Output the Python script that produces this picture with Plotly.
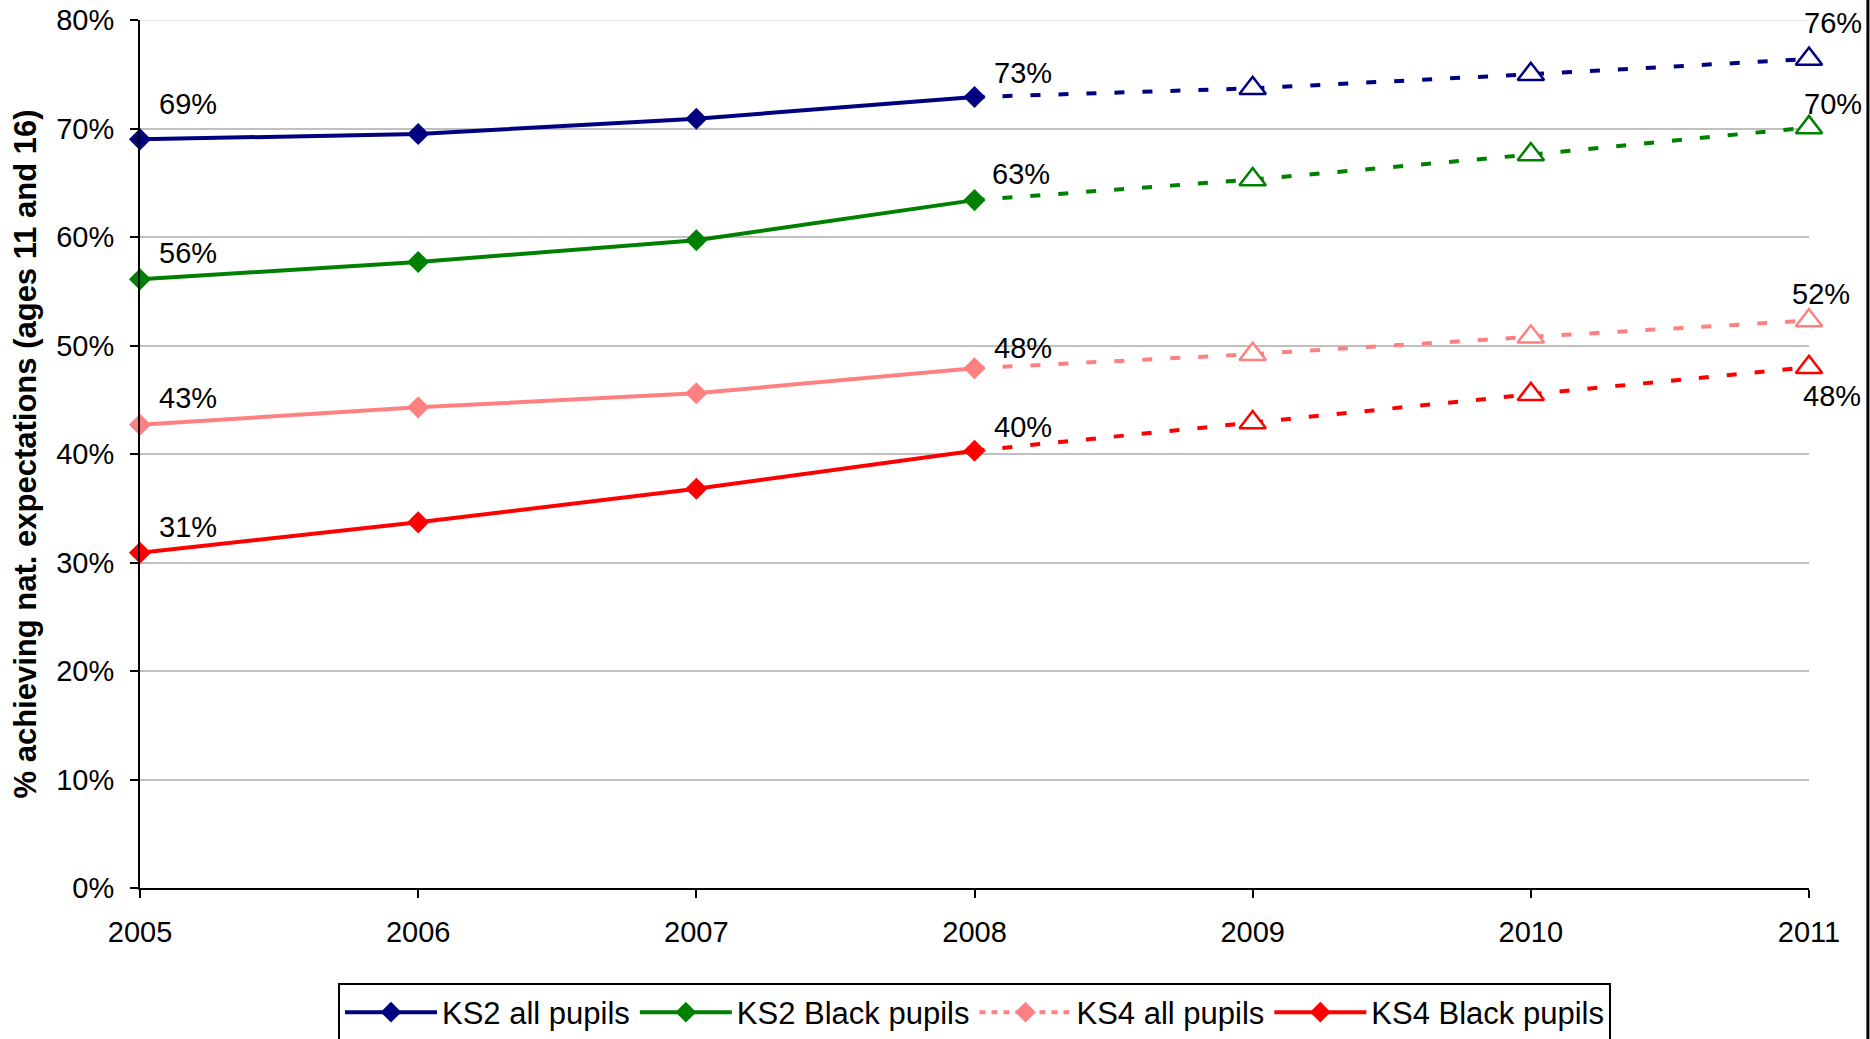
import plotly.graph_objects as go

# Attainment data: actual results 2005-2008, projections 2008-2011
years_actual = [2005, 2006, 2007, 2008]
years_proj = [2008, 2009, 2010, 2011]

ks2_all_actual = [69.0, 69.5, 70.9, 72.9]
ks2_all_proj = [72.9, 73.7, 75.0, 76.4]

ks2_black_actual = [56.1, 57.7, 59.7, 63.4]
ks2_black_proj = [63.4, 65.3, 67.6, 70.1]

ks4_all_actual = [42.7, 44.3, 45.6, 47.9]
ks4_all_proj = [47.9, 49.2, 50.8, 52.3]

ks4_black_actual = [30.9, 33.7, 36.8, 40.3]
ks4_black_proj = [40.3, 42.9, 45.5, 48.0]

series_names = ["KS2 all pupils", "KS2 Black pupils", "KS4 all pupils", "KS4 Black pupils"]
series_colors = ["#000080", "#008000", "#FF8080", "#FF0000"]

y_ticks = [0, 10, 20, 30, 40, 50, 60, 70, 80]
y_tick_labels = ["0%", "10%", "20%", "30%", "40%", "50%", "60%", "70%", "80%"]
x_ticks = [2005, 2006, 2007, 2008, 2009, 2010, 2011]

FONT = "Liberation Sans, Arial, sans-serif"
DOT = "10px,18px"

actuals = [ks2_all_actual, ks2_black_actual, ks4_all_actual, ks4_black_actual]
projs = [ks2_all_proj, ks2_black_proj, ks4_all_proj, ks4_black_proj]

fig = go.Figure()

for i, (name, color, act, prj) in enumerate(zip(series_names, series_colors, actuals, projs)):
    # projection (dotted line)
    fig.add_trace(go.Scatter(
        x=years_proj, y=prj, mode="lines",
        line=dict(color=color, width=4, dash=DOT),
        showlegend=False, hoverinfo="skip", cliponaxis=False,
    ))
    # open triangles at projected years
    fig.add_trace(go.Scatter(
        x=years_proj[1:], y=prj[1:], mode="markers",
        marker=dict(symbol="triangle-up", size=23, color="#FFFFFF",
                    line=dict(color=color, width=2.5)),
        showlegend=False, cliponaxis=False,
    ))
    # actual results (solid with diamonds)
    fig.add_trace(go.Scatter(
        x=years_actual, y=act, mode="lines+markers", name=name,
        line=dict(color=color, width=4),
        marker=dict(symbol="diamond", size=17, color=color),
        showlegend=(name != "KS4 all pupils"), legendrank=i + 1,
        cliponaxis=False,
    ))

# legend key for KS4 all pupils drawn with a dotted line
fig.add_trace(go.Scatter(
    x=[None], y=[None], mode="lines+markers", name="KS4 all pupils",
    line=dict(color=series_colors[2], width=4, dash="6px,6px"),
    marker=dict(symbol="diamond", size=17, color=series_colors[2]),
    legendrank=3,
))

# value labels: (series values, index, x position, xshift, yshift)
label_specs = [
    (ks2_all_actual, 0, 2005, 48, 35), (ks2_black_actual, 0, 2005, 48, 26),
    (ks4_all_actual, 0, 2005, 48, 27), (ks4_black_actual, 0, 2005, 48, 26),
    (ks2_all_actual, 3, 2008, 48, 24), (ks2_black_actual, 3, 2008, 46, 26),
    (ks4_all_actual, 3, 2008, 48, 20), (ks4_black_actual, 3, 2008, 48, 24),
    (ks2_all_proj, 3, 2011, 24, 36), (ks2_black_proj, 3, 2011, 24, 23),
    (ks4_all_proj, 3, 2011, 12, 27), (ks4_black_proj, 3, 2011, 23, -29),
]
annotations = []
for vals, idx, xv, dx, dy in label_specs:
    annotations.append(dict(
        x=xv, y=vals[idx], xref="x", yref="y", text=f"{round(vals[idx])}%",
        showarrow=False, xshift=dx, yshift=dy,
        font=dict(family=FONT, size=29, color="#000000"),
    ))

annotations.append(dict(
    x=-0.0692, y=0.5, xref="paper", yref="paper",
    text="<b>% achieving nat. expectations (ages 11 and 16)</b>",
    textangle=-90, showarrow=False, xanchor="center", yanchor="middle",
    font=dict(family=FONT, size=31, color="#000000"),
))

fig.update_layout(
    width=1870, height=1039,
    margin=dict(l=139.5, r=61, t=20, b=150.5, pad=0, autoexpand=False),
    plot_bgcolor="#FFFFFF", paper_bgcolor="#FFFFFF",
    font=dict(family=FONT, size=29, color="#000000"),
    annotations=annotations,
    legend=dict(
        orientation="h", x=0.5, xanchor="center", y=-0.11, yanchor="top",
        bordercolor="#000000", borderwidth=2, bgcolor="#FFFFFF",
        font=dict(family=FONT, size=31, color="#000000"),
        itemwidth=92, tracegroupgap=0,
    ),
    shapes=[
        dict(type="line", xref="x", yref="y", x0=2005, x1=2011, y0=80, y1=80,
             line=dict(color="#E8E8E8", width=2), layer="between"),
        dict(type="line", xref="paper", yref="paper", x0=1.0353, x1=1.0353, y0=-1, y1=2,
             line=dict(color="#000000", width=3)),
    ],
)

fig.update_xaxes(
    range=[2005, 2011], tickvals=x_ticks, ticktext=[str(v) for v in x_ticks],
    showgrid=False, zeroline=False,
    showline=True, linecolor="#000000", linewidth=2,
    ticks="outside", ticklen=8, tickwidth=2, tickcolor="#000000",
    tickfont=dict(family=FONT, size=29), ticklabelstandoff=9,
)
fig.update_yaxes(
    range=[0, 80], tickvals=y_ticks, ticktext=y_tick_labels,
    showgrid=True, gridcolor="#C0C0C0", gridwidth=2, zeroline=False,
    showline=True, linecolor="#000000", linewidth=2,
    ticks="outside", ticklen=8, tickwidth=2, tickcolor="#000000",
    tickfont=dict(family=FONT, size=29), ticklabelstandoff=10,
)

fig.write_html("out.html")
